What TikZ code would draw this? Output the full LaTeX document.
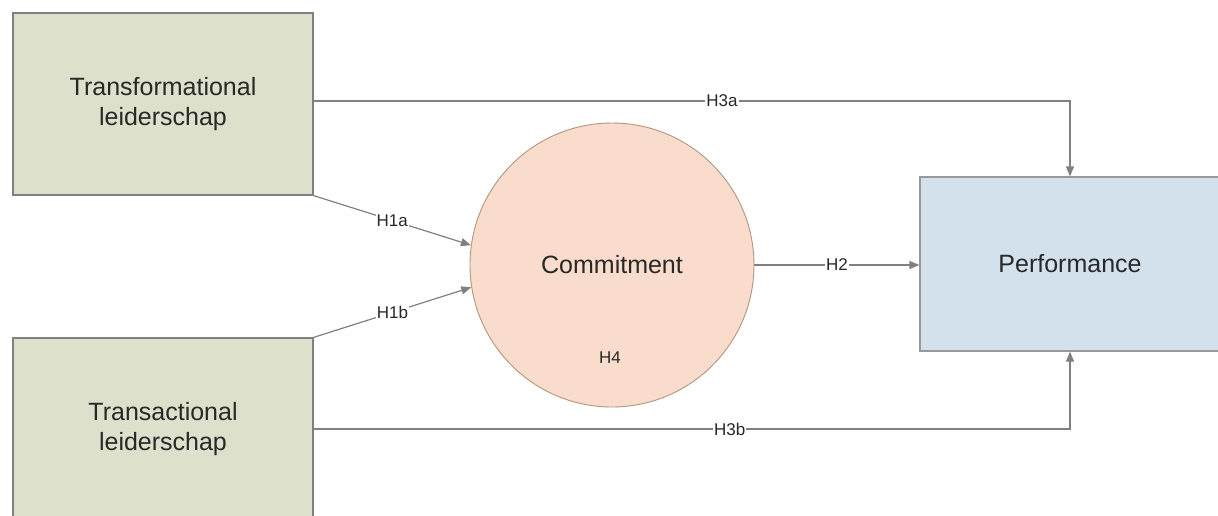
\documentclass[tikz,border=0pt]{standalone}
\usepackage{fontspec}
\setmainfont{Liberation Sans}
\usetikzlibrary{arrows.meta}

\definecolor{leadgreen}{RGB}{221,224,203}
\definecolor{commitpink}{RGB}{249,220,203}
\definecolor{perfblue}{RGB}{211,225,237}
\definecolor{linegray}{RGB}{128,128,128}
\definecolor{textgray}{RGB}{40,40,40}

\tikzset{
  leadbox/.style={draw=linegray, fill=leadgreen, line width=0.9pt, minimum width=225pt, minimum height=136.5pt, inner sep=0pt, align=center, text=textgray, font=\fontsize{18.75pt}{22.5pt}\selectfont},
  perfbox/.style={draw=linegray!80, fill=perfblue, line width=0.9pt, minimum width=225pt, minimum height=130.5pt, inner sep=0pt, align=center, text=textgray, font=\fontsize{18.75pt}{22.5pt}\selectfont},
  commitnode/.style={circle, draw=brown!50!gray!80, fill=commitpink, line width=0.7pt, minimum size=213pt, inner sep=0pt, text=textgray, font=\fontsize{18.75pt}{22.5pt}\selectfont},
  link/.style={draw=linegray, line width=0.9pt, -{Triangle[length=7.5pt,width=6pt]}},
  hyp/.style={fill=white, inner sep=0.8pt, text=textgray, font=\fontsize{12.75pt}{15pt}\selectfont}
}

\begin{document}
\begin{tikzpicture}[x=0.75pt,y=-0.75pt]
\useasboundingbox (0,0) rectangle (1218,515);

\node[leadbox] (tfl) at (163,104) {Transformational\\leiderschap};
\node[leadbox] (trl) at (163,429) {Transactional\\leiderschap};
\node[commitnode] (com) at (612,265) {Commitment};
\node[perfbox] (perf) at (1070,264) {Performance};
\node[hyp, fill=none] (h4) at (610,358) {H4};

\draw[link] (tfl.south east) -- node[hyp] {H1a} (com.172);
\draw[link] (trl.north east) -- node[hyp] {H1b} (com.189);
\draw[link] (com.east) -- node[hyp] {H2} (com.east -| perf.west);
\draw[link] ([yshift=2.25pt]tfl.east) -| node[hyp, pos=0.27] {H3a} (perf.north);
\draw[link] (trl.east) -| node[hyp, pos=0.275] {H3b} (perf.south);
\end{tikzpicture}
\end{document}
